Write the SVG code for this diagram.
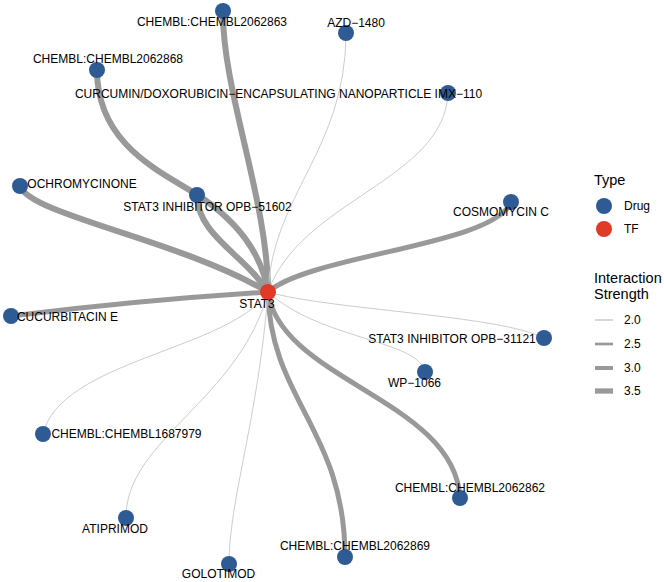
<svg xmlns="http://www.w3.org/2000/svg" width="664" height="582" viewBox="0 0 664 582">
<style>
text{font-family:"Liberation Sans",Arial,sans-serif;font-size:12px;fill:#000;text-anchor:middle}
.lg{text-anchor:start}
.tt{font-size:14.5px;text-anchor:start}
.e{fill:none;stroke-linecap:round}
.thk{stroke:#999;stroke-width:6}
.mid{stroke:#999;stroke-width:5}
.thn{stroke:#cccccc;stroke-width:1}
.drug{fill:#2F5B95}
.tf{fill:#DF3B26}
</style>
<rect width="664" height="582" fill="#fff"/>
<g id="edges">
<path class="e thk" d="M223,11 C222,90 268,200 268,292"/>
<path class="e thn" d="M346,33 C346,150 272,195 268,292"/>
<path class="e thk" d="M97,70 C97,150 170,175 205,200 C240,225 262,255 268,292"/>
<path class="e thk" d="M197,195 C197,235 245,255 268,292"/>
<path class="e thk" d="M20,186 C30,215 180,240 268,292"/>
<path class="e thn" d="M448,93 C445,180 300,200 268,292"/>
<path class="e mid" d="M511,202 C495,245 310,255 268,292"/>
<path class="e mid" d="M11,316 Q140,300 268,292"/>
<path class="e thn" d="M544,338 C500,315 330,310 268,292"/>
<path class="e thn" d="M425,372 C420,340 320,340 268,292"/>
<path class="e mid" d="M268,292 C280,380 455,400 460,498"/>
<path class="e mid" d="M268,292 C270,400 345,430 345,557"/>
<path class="e thn" d="M229,564 C229,500 258,420 268,292"/>
<path class="e thn" d="M126,518 C125,440 240,400 268,292"/>
<path class="e thn" d="M43,434 C60,360 230,350 268,292"/>
</g>
<g id="n-chembl2062863"><circle class="drug" cx="223" cy="11" r="8"/><text x="212" y="26">CHEMBL:CHEMBL2062863</text></g>
<g id="n-azd1480"><circle class="drug" cx="346" cy="33" r="8"/><text x="356" y="27">AZD−1480</text></g>
<g id="n-chembl2062868"><circle class="drug" cx="97" cy="70" r="8"/><text x="108" y="63">CHEMBL:CHEMBL2062868</text></g>
<g id="n-imx110"><circle class="drug" cx="448" cy="93" r="8"/><text x="278.5" y="98">CURCUMIN/DOXORUBICIN−ENCAPSULATING NANOPARTICLE IMX−110</text></g>
<g id="n-ochromycinone"><circle class="drug" cx="20" cy="186" r="8"/><text x="82" y="188">OCHROMYCINONE</text></g>
<g id="n-opb51602"><circle class="drug" cx="197" cy="195" r="8"/><text x="207.5" y="211">STAT3 INHIBITOR OPB−51602</text></g>
<g id="n-cosmomycin"><circle class="drug" cx="511" cy="202" r="8"/><text x="501" y="216">COSMOMYCIN C</text></g>
<g id="n-cucurbitacin"><circle class="drug" cx="11" cy="316" r="8"/><text x="67.5" y="321">CUCURBITACIN E</text></g>
<g id="n-opb31121"><circle class="drug" cx="544" cy="338" r="8"/><text x="452" y="343">STAT3 INHIBITOR OPB−31121</text></g>
<g id="n-wp1066"><circle class="drug" cx="425" cy="372" r="8"/><text x="414.5" y="387">WP−1066</text></g>
<g id="n-chembl1687979"><circle class="drug" cx="43" cy="434" r="8"/><text x="126.5" y="438">CHEMBL:CHEMBL1687979</text></g>
<g id="n-atiprimod"><circle class="drug" cx="126" cy="518" r="8"/><text x="115" y="533">ATIPRIMOD</text></g>
<g id="n-golotimod"><circle class="drug" cx="229" cy="564" r="8"/><text x="218.5" y="578">GOLOTIMOD</text></g>
<g id="n-chembl2062869"><circle class="drug" cx="345" cy="557" r="8"/><text x="355" y="550">CHEMBL:CHEMBL2062869</text></g>
<g id="n-chembl2062862"><circle class="drug" cx="460" cy="498" r="8"/><text x="470" y="492">CHEMBL:CHEMBL2062862</text></g>
<g id="n-stat3"><circle class="tf" cx="268" cy="292" r="8"/><text x="257" y="308">STAT3</text></g>
<g id="legend">
<text class="tt" x="594" y="185">Type</text>
<circle class="drug" cx="604" cy="206" r="8"/><text class="lg" x="624" y="210">Drug</text>
<circle class="tf" cx="604" cy="229" r="8"/><text class="lg" x="624" y="233">TF</text>
<text class="tt" x="594" y="283">Interaction</text>
<text class="tt" x="594" y="299">Strength</text>
<line x1="595" y1="320" x2="613" y2="320" stroke="#b0b0b0" stroke-width="1"/>
<line x1="595" y1="344" x2="613" y2="344" stroke="#999" stroke-width="2.7"/>
<line x1="595" y1="368" x2="613" y2="368" stroke="#999" stroke-width="4"/>
<line x1="595" y1="391" x2="613" y2="391" stroke="#999" stroke-width="5.3"/>
<text class="lg" x="624" y="324">2.0</text>
<text class="lg" x="624" y="348">2.5</text>
<text class="lg" x="624" y="372">3.0</text>
<text class="lg" x="624" y="395">3.5</text>
</g>
</svg>
